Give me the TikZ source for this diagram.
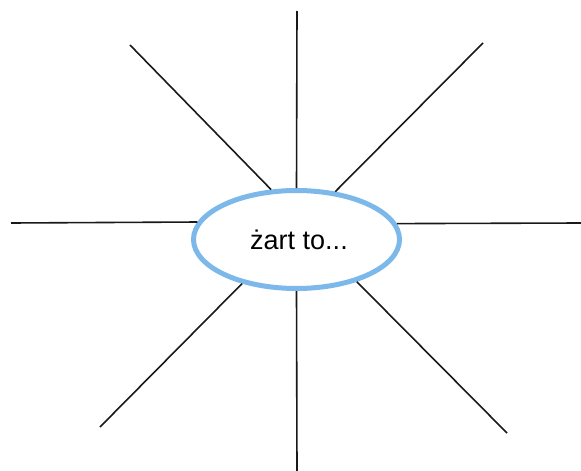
\documentclass[tikz,border=0pt]{standalone}
\usepackage{fontspec}
\setmainfont{Liberation Sans}
\usetikzlibrary{shapes,positioning}
\definecolor{hubblue}{RGB}{125,184,234}

\begin{document}
\begin{tikzpicture}[x=1pt, y=-1pt,
    hub/.style={ellipse, draw=hubblue, line width=5pt, fill=white, minimum width=206pt, minimum height=98pt, inner sep=0pt, font=\fontsize{27}{32}\selectfont},
    spoke/.style={line width=1.6pt, draw=black!90}
  ]
    \useasboundingbox (0,0) rectangle (581,471);
    \node[hub] (hub) at (296.5,239.5) {\hspace{5pt}żart to...};

    % free ends of the spokes
    \coordinate (n) at (297,11);
    \coordinate (ne) at (483,43);
    \coordinate (e) at (581,223);
    \coordinate (se) at (507,433);
    \coordinate (s) at (297,471);
    \coordinate (sw) at (100,427);
    \coordinate (w) at (11,223);
    \coordinate (nw) at (130,45);

    \draw[spoke] (n) -- (hub.90);
    \draw[spoke] (ne) -- (hub.51);
    \draw[spoke] (e) -- (hub.9.2);
    \draw[spoke] (se) -- (hub.325.8);
    \draw[spoke] (s) -- (hub.270);
    \draw[spoke] (sw) -- (hub.219.8);
    \draw[spoke] (w) -- (hub.170.9);
    \draw[spoke] (nw) -- (hub.117.7);
  \end{tikzpicture}
\end{document}
